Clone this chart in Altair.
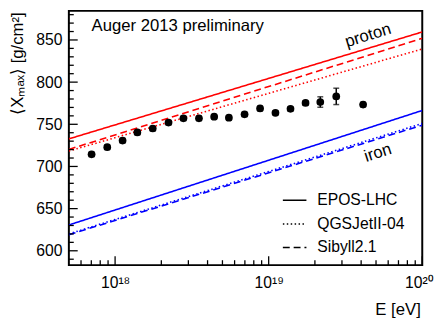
import altair as alt
import pandas as pd

# ---- Auger 2013 preliminary <Xmax> data ----
energy = [7.03e17, 8.89e17, 1.119e18, 1.396e18, 1.758e18, 2.228e18, 2.786e18, 3.516e18,
          4.416e18, 5.508e18, 6.966e18, 8.79e18, 1.107e19, 1.387e19, 1.738e19, 2.168e19,
          2.754e19, 4.12e19]
xmax = [714.4, 722.9, 730.7, 740.4, 745.0, 752.0, 757.1, 757.1, 759.0, 757.8, 761.8,
        768.8, 763.6, 768.3, 775.3, 776.4, 783.1, 773.4]
xmax_err = [2.5, 2.5, 2.5, 2.5, 2.5, 2.5, 2.5, 2.5, 2.5, 2.5, 2.5, 2.5, 2.5, 2.5, 2.5,
            6.2, 9.7, 2.5]

# ---- model predictions (straight lines in log E) ----
line_energy = [5e17, 1e20]
models = ["EPOS-LHC", "QGSJetII-04", "Sibyll2.1"]
proton_lines = {"EPOS-LHC": [732.7, 859.5], "QGSJetII-04": [718.3, 839.3], "Sibyll2.1": [720.2, 852.0]}
iron_lines = {"EPOS-LHC": [630.6, 766.4], "QGSJetII-04": [620.0, 751.0], "Sibyll2.1": [619.0, 749.0]}

# ---- axes ----
x_major = [1e18, 1e19, 1e20]
x_minor = [6e17, 7e17, 8e17, 9e17] + [k * 1e18 for k in range(2, 10)] + [k * 1e19 for k in range(2, 10)]
y_major = [600, 650, 700, 750, 800, 850]
y_minor = [v for v in range(590, 890, 10) if v not in y_major]

# ---- annotations ----
title_text = ["Auger 2013 preliminary"]
title_E = [7.03e17]
title_X = [861.0]
label_text = ["proton", "iron"]
label_E = [4.44e19, 5.14e19]
label_X = [855.2, 716.0]
label_angle = [343, 342]

W, H = 360, 259
FONT = "Liberation Sans"

rows = []
for prim, d in (("proton", proton_lines), ("iron", iron_lines)):
    for m in models:
        for e, v in zip(line_energy, d[m]):
            rows.append({"E": e, "Xmax": v, "primary": prim, "model": m})
lines_df = pd.DataFrame(rows)

pts_df = pd.DataFrame({"E": energy, "Xmax": xmax, "lo": [a - b for a, b in zip(xmax, xmax_err)],
                       "hi": [a + b for a, b in zip(xmax, xmax_err)]})

xs = alt.Scale(type="log", domain=[5e17, 1e20], nice=False)
ys = alt.Scale(domain=[583, 884.5], nice=False, zero=False)

x_axis = alt.Axis(values=x_major, ticks=False, domain=False, grid=False,
                  labelExpr="datum.value < 5e18 ? '10¹⁸' : (datum.value < 5e19 ? '10¹⁹' : '10²⁰')",
                  labelFontSize=16, labelPadding=10, labelColor="black", labelFlush=False,
                  labelOffset={"condition": {"test": "datum.value > 5e19", "value": -4}, "value": 0},
                  title="E [eV]", titleFontSize=17, titleFontWeight="normal", titleColor="black",
                  titleX=358, titleY=50, titleAlign="right", titleBaseline="alphabetic")
y_axis = alt.Axis(values=y_major, ticks=False, domain=False, grid=False,
                  labelFontSize=16, labelPadding=7, labelColor="black",
                  title="⟨Xₘₐₓ⟩ [g/cm²]", titleFontSize=17, titleFontWeight="normal", titleColor="black",
                  titleAngle=270, titleX=-47, titleY=1, titleAlign="right", titleBaseline="alphabetic")

lines = alt.Chart(lines_df).mark_line(strokeWidth=1.6, clip=True).encode(
    x=alt.X("E:Q", scale=xs, axis=x_axis),
    y=alt.Y("Xmax:Q", scale=ys, axis=y_axis),
    color=alt.Color("primary:N", scale=alt.Scale(domain=["proton", "iron"], range=["#ff0000", "#0000ff"]), legend=None),
    strokeDash=alt.StrokeDash("model:N", scale=alt.Scale(domain=models, range=[[1, 0], [1.5, 2.5], [7, 4]]),
                              legend=alt.Legend(orient="none", legendX=217, legendY=180, title=None,
                                                symbolType="stroke", symbolStrokeColor="black",
                                                symbolStrokeWidth=1.5, symbolSize=576,
                                                labelFontSize=16, labelFont=FONT, labelColor="black",
                                                labelOffset=10, rowPadding=3, padding=0)),
    detail="primary:N",
)

bars = alt.Chart(pts_df).mark_rule(color="black", strokeWidth=1.5).encode(
    x=alt.X("E:Q", scale=xs), y=alt.Y("lo:Q", scale=ys), y2="hi:Q")
cap_lo = alt.Chart(pts_df).mark_tick(color="black", orient="horizontal", size=6, thickness=1.5).encode(
    x=alt.X("E:Q", scale=xs), y=alt.Y("lo:Q", scale=ys))
cap_hi = alt.Chart(pts_df).mark_tick(color="black", orient="horizontal", size=6, thickness=1.5).encode(
    x=alt.X("E:Q", scale=xs), y=alt.Y("hi:Q", scale=ys))
points = alt.Chart(pts_df).mark_circle(color="black", size=62, opacity=1).encode(
    x=alt.X("E:Q", scale=xs), y=alt.Y("Xmax:Q", scale=ys))

xmaj = alt.Chart(pd.DataFrame({"E": x_major})).mark_rule(color="black", strokeWidth=1.3).encode(
    x=alt.X("E:Q", scale=xs), y=alt.value(H), y2=alt.value(H - 9))
xmin = alt.Chart(pd.DataFrame({"E": x_minor})).mark_rule(color="black", strokeWidth=1.3).encode(
    x=alt.X("E:Q", scale=xs), y=alt.value(H), y2=alt.value(H - 5))
ymaj = alt.Chart(pd.DataFrame({"v": y_major})).mark_rule(color="black", strokeWidth=1.3).encode(
    y=alt.Y("v:Q", scale=ys), x=alt.value(0), x2=alt.value(9))
ymin = alt.Chart(pd.DataFrame({"v": y_minor})).mark_rule(color="black", strokeWidth=1.3).encode(
    y=alt.Y("v:Q", scale=ys), x=alt.value(0), x2=alt.value(5))

title_layer = alt.Chart(pd.DataFrame({"t": title_text, "E": title_E, "X": title_X})).mark_text(
    align="left", baseline="alphabetic", fontSize=17, font=FONT, color="black").encode(
    x=alt.X("E:Q", scale=xs), y=alt.Y("X:Q", scale=ys), text="t:N")
label_layer = alt.Chart(pd.DataFrame({"t": label_text, "E": label_E, "X": label_X, "a": label_angle})).mark_text(
    align="center", baseline="middle", fontSize=17, font=FONT, color="black").encode(
    x=alt.X("E:Q", scale=xs), y=alt.Y("X:Q", scale=ys), text="t:N", angle=alt.Angle("a:Q", scale=None))

chart = alt.layer(lines, xmaj, xmin, ymaj, ymin, bars, cap_lo, cap_hi, points, title_layer, label_layer).properties(
    width=W, height=H,
    autosize=alt.AutoSizeParams(type="none"),
    padding={"left": 62, "top": 0, "right": 14, "bottom": 54},
).configure(font=FONT).configure_view(stroke="black", strokeWidth=2)

chart.save("out.html", embed_options={"renderer": "svg", "actions": False})
